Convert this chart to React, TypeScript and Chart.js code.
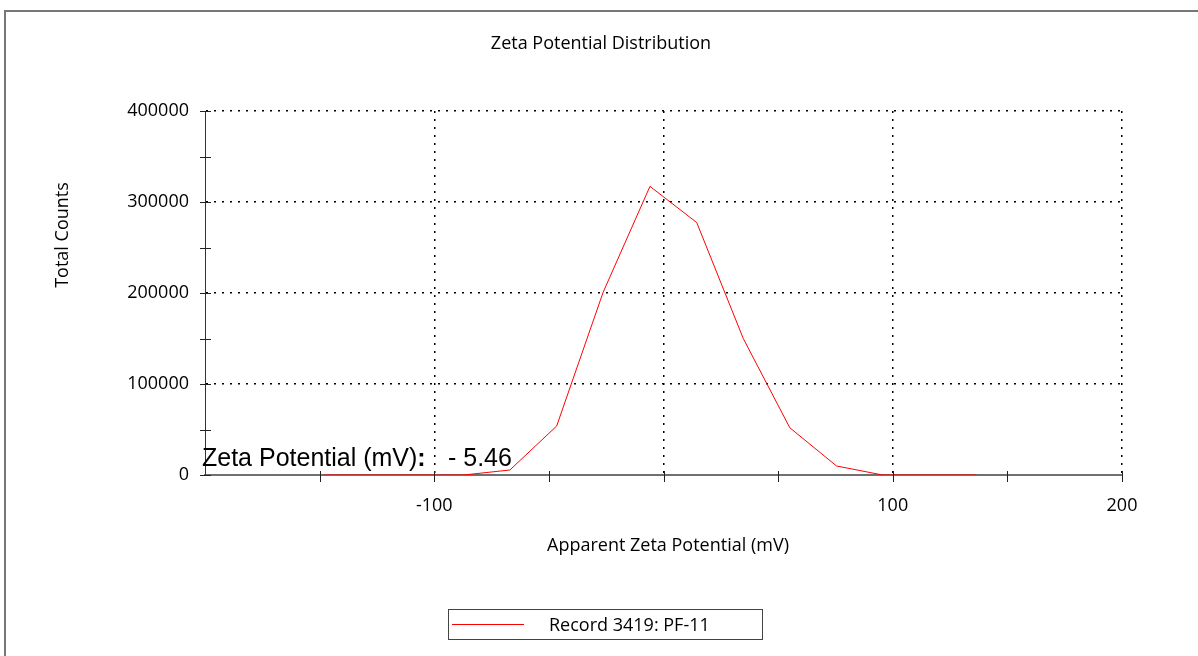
import React, { useEffect, useRef } from "react";
import { Chart, registerables } from "chart.js";
Chart.register(...registerables);

const zetaMv = [-148.2, -127.9, -107.6, -87.2, -67.0, -46.6, -26.3, -5.9, 14.5, 34.8, 55.1, 75.5, 95.6, 116.0, 136.4];
const totalCounts = [0, 0, 0, 0, 5500, 53800, 201000, 317200, 277400, 150000, 51900, 9900, 0, 0, 0];
const xTickLabels = ["-100", "100", "200"];
const yTickLabels = ["0", "100000", "200000", "300000", "400000"];
const seriesLabel = "Record 3419: PF-11";
const chartTitle = "Zeta Potential Distribution";
const xTitle = "Apparent Zeta Potential (mV)";
const yTitle = "Total Counts";
const zetaLabel = "Zeta Potential (mV)";
const zetaValue = "- 5.46";

const FONT = "'Open Sans', sans-serif";

const textPlugin = {
  id: "textPlugin",
  afterDraw(chart: any) {
    const ctx = chart.ctx;
    const xs = chart.scales.x;
    const ys = chart.scales.y;
    const area = chart.chartArea;
    ctx.save();
    // cross tick marks
    ctx.strokeStyle = "#222";
    ctx.lineWidth = 1;
    ctx.setLineDash([]);
    for (let v = 0; v <= 400000; v += 50000) {
      const py = Math.round(ys.getPixelForValue(v)) + 0.5;
      ctx.beginPath();
      ctx.moveTo(area.left - 5, py);
      ctx.lineTo(area.left + 6, py);
      ctx.stroke();
    }
    for (let v = -150; v <= 200; v += 50) {
      const px = Math.round(xs.getPixelForValue(v)) + 0.5;
      ctx.beginPath();
      ctx.moveTo(px, area.bottom - 4);
      ctx.lineTo(px, area.bottom + 7);
      ctx.stroke();
    }
    ctx.fillStyle = "#000";
    // title
    ctx.font = `18px ${FONT}`;
    ctx.textAlign = "center";
    ctx.textBaseline = "alphabetic";
    ctx.fillText(chartTitle, 601, 49);
    // x title
    ctx.fillText(xTitle, 668, 551);
    // y title
    ctx.save();
    ctx.translate(68, 235);
    ctx.rotate(-Math.PI / 2);
    ctx.fillText(yTitle, 0, 0);
    ctx.restore();
    // annotation
    ctx.textAlign = "left";
    ctx.font = `25px 'Liberation Sans', Arial, sans-serif`;
    ctx.fillText(zetaLabel, 202, 466);
    const w = ctx.measureText(zetaLabel).width;
    ctx.font = `bold 25px 'Liberation Sans', Arial, sans-serif`;
    ctx.fillText(":", 202 + w, 466);
    ctx.font = `25px 'Liberation Sans', Arial, sans-serif`;
    ctx.fillText(zetaValue, 448, 466);
    ctx.restore();
  },
};

export default function App() {
  const ref = useRef<HTMLCanvasElement>(null);
  useEffect(() => {
    if (!ref.current) return;
    const chart = new Chart(ref.current, {
      type: "line",
      data: {
        datasets: [
          {
            label: seriesLabel,
            data: zetaMv.map((x, i) => ({ x, y: totalCounts[i] })),
            borderColor: "#ff0000",
            borderWidth: 1,
            pointRadius: 0,
            tension: 0,
            fill: false,
          },
        ],
      },
      options: {
        animation: false,
        responsive: false,
        devicePixelRatio: 1,
        layout: { padding: { left: 0, top: 111, right: 76, bottom: 0 } },
        plugins: { legend: { display: false }, title: { display: false }, tooltip: { enabled: false } },
        scales: {
          x: {
            type: "linear",
            min: -200,
            max: 200,
            afterFit: (s: any) => {
              s.height = 181;
            },
            ticks: {
              stepSize: 50,
              autoSkip: false,
              maxRotation: 0,
              padding: 20,
              color: "#000",
              font: { family: FONT, size: 18 },
              callback: (v: any) => (xTickLabels.includes(String(v)) ? String(v) : ""),
            },
            grid: {
              drawTicks: false,
              lineWidth: 1.5,
              color: (c: any) => {
                const v = c.tick ? c.tick.value : 0;
                return v % 100 === 0 && v !== -200 ? "#000" : "rgba(0,0,0,0)";
              },
            },
            border: { display: true, color: "#707070", width: 2, dash: [2, 6] },
          },
          y: {
            type: "linear",
            min: 0,
            max: 400000,
            afterFit: (s: any) => {
              s.width = 205;
            },
            ticks: {
              stepSize: 50000,
              autoSkip: false,
              padding: 16,
              color: "#000",
              font: { family: FONT, size: 18 },
              callback: (v: any) => (yTickLabels.includes(String(v)) ? String(v) : ""),
            },
            grid: {
              drawTicks: false,
              lineWidth: 1.5,
              color: (c: any) => {
                const v = c.tick ? c.tick.value : 0;
                return v % 100000 === 0 && v !== 0 ? "#000" : "rgba(0,0,0,0)";
              },
            },
            border: { display: true, color: "#333", width: 1, dash: [2, 6] },
          },
        },
      },
      plugins: [textPlugin],
    } as any);
    return () => chart.destroy();
  }, []);

  return (
    <div style={{ position: "fixed", left: 0, top: 0, width: 1198, height: 656, background: "#fff", overflow: "hidden" }}>
      <div
        style={{
          position: "absolute",
          left: 4,
          top: 10,
          width: 1300,
          height: 800,
          borderLeft: "2px solid #777",
          borderTop: "2px solid #777",
        }}
      />
      <canvas ref={ref} width={1198} height={656} style={{ position: "absolute", left: 0, top: 0, width: 1198, height: 656 }} />
      <div
        style={{
          position: "absolute",
          left: 448,
          top: 609,
          width: 313,
          height: 29,
          border: "1.5px solid #444",
          boxSizing: "content-box",
          fontFamily: FONT,
          fontSize: 18,
          color: "#000",
        }}
      >
        <div style={{ position: "absolute", left: 3, top: 14, width: 72, height: 1, background: "#ff0000" }} />
        <div style={{ position: "absolute", left: 100, top: 1, lineHeight: "26px", whiteSpace: "nowrap" }}>{seriesLabel}</div>
      </div>
    </div>
  );
}
